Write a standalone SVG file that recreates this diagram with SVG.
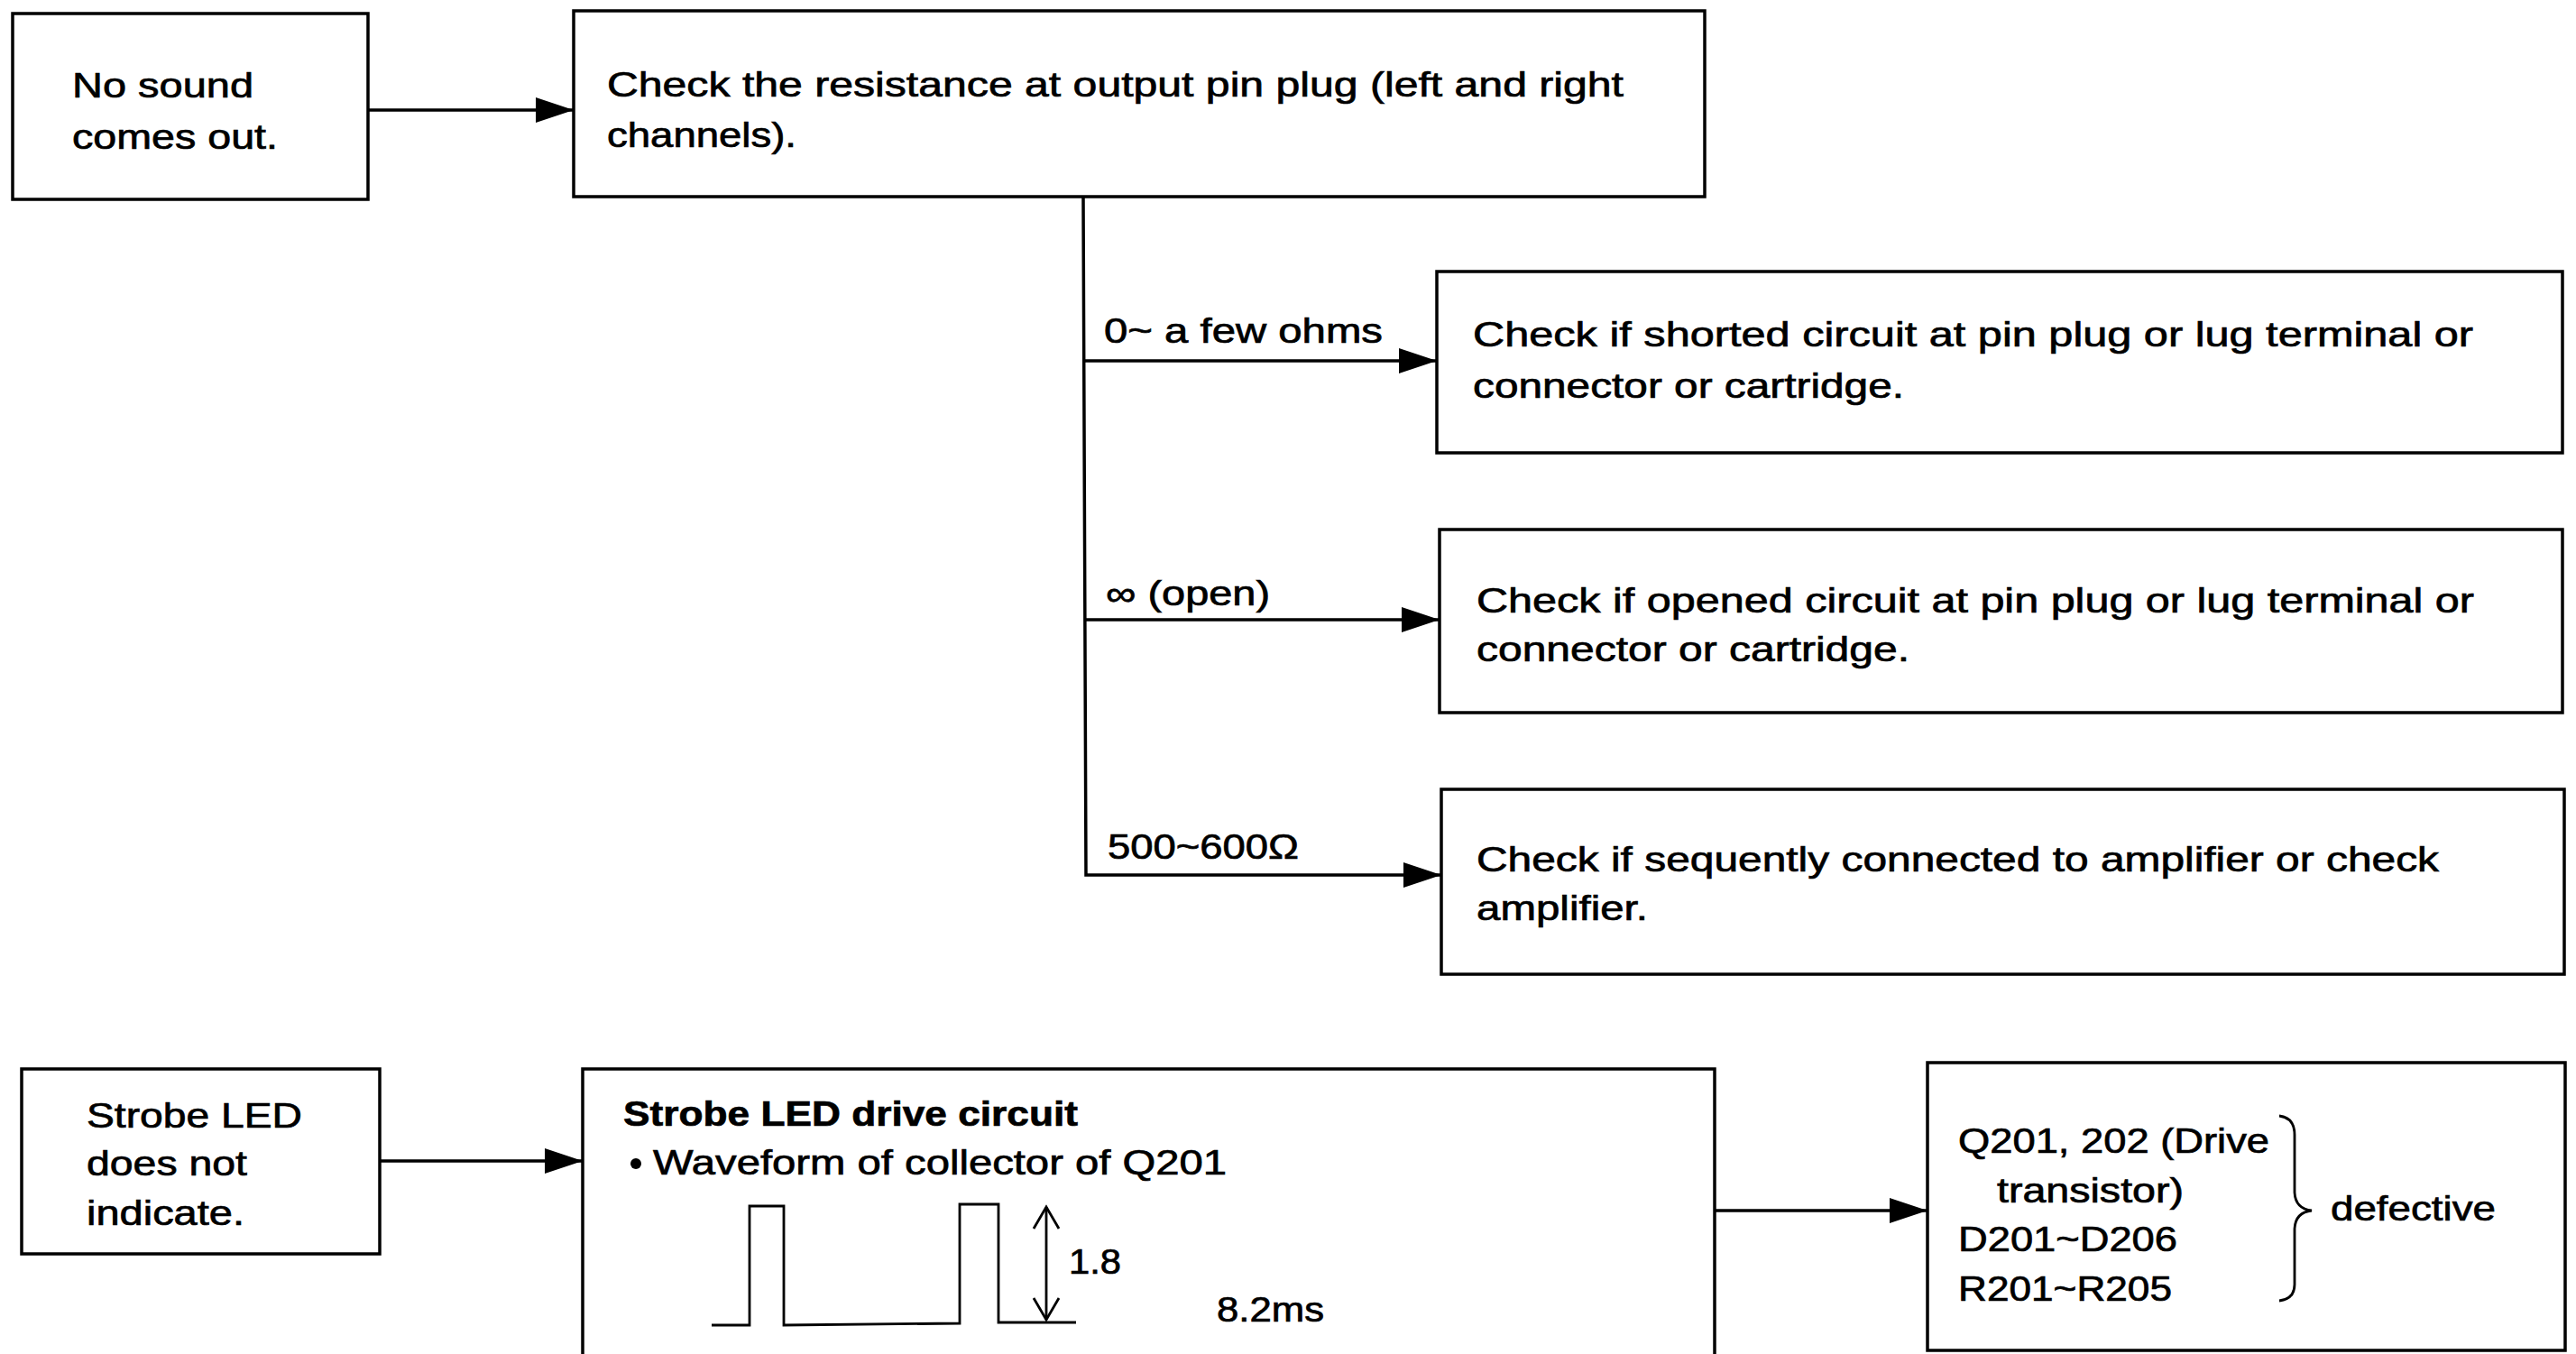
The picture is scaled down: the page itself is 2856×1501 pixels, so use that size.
<svg xmlns="http://www.w3.org/2000/svg" width="2856" height="1501" viewBox="0 0 2856 1501">
<style>
.box{fill:#fff;stroke:#000;stroke-width:3.5}
.t{font-family:"Liberation Sans",Arial,Helvetica,sans-serif;font-size:38px;fill:#000;stroke:#000;stroke-width:0.7}
.b{font-weight:bold}
.con{fill:none;stroke:#000;stroke-width:3.5}
.thin{fill:none;stroke:#000;stroke-width:2.8}
</style>
<defs>
<marker id="ah" markerUnits="userSpaceOnUse" markerWidth="44" markerHeight="30" refX="42" refY="14" orient="auto" overflow="visible"><path d="M0,0 L42,14 L0,28 Z" fill="#000"/></marker>
<marker id="oa" markerUnits="userSpaceOnUse" markerWidth="30" markerHeight="30" refX="24" refY="14" orient="auto-start-reverse" overflow="visible"><path d="M0,0 L24,14 L0,28" fill="none" stroke="#000" stroke-width="2.8"/></marker>
</defs>
<rect width="2856" height="1501" fill="#fff"/>

<g id="connectors">
<path class="con" d="M408,122 H636" marker-end="url(#ah)"/>
<path class="con" d="M1201,218 L1204,970 H1598" marker-end="url(#ah)"/>
<path class="con" d="M1201,400 H1593" marker-end="url(#ah)"/>
<path class="con" d="M1202,687 H1596" marker-end="url(#ah)"/>
<path class="con" d="M421,1287 H646" marker-end="url(#ah)"/>
<path class="con" d="M1901,1342 H2137" marker-end="url(#ah)"/>
</g>

<g id="no-sound">
<rect class="box" x="14" y="15" width="394" height="206"/>
<text class="t" x="80" y="108" textLength="201" lengthAdjust="spacingAndGlyphs">No sound</text>
<text class="t" x="80" y="165" textLength="228" lengthAdjust="spacingAndGlyphs">comes out.</text>
</g>

<g id="check-resistance">
<rect class="box" x="636" y="12" width="1254" height="206"/>
<text class="t" x="673" y="107" textLength="1127" lengthAdjust="spacingAndGlyphs">Check the resistance at output pin plug (left and right</text>
<text class="t" x="673" y="163" textLength="210" lengthAdjust="spacingAndGlyphs">channels).</text>
</g>

<g id="labels">
<text class="t" x="1224" y="380" textLength="309" lengthAdjust="spacingAndGlyphs">0~ a few ohms</text>
<text class="t" x="1226" y="671" textLength="182" lengthAdjust="spacingAndGlyphs">∞ (open)</text>
<text class="t" x="1228" y="952" textLength="212" lengthAdjust="spacingAndGlyphs">500~600Ω</text>
</g>

<g id="check-shorted">
<rect class="box" x="1593" y="301" width="1248" height="201"/>
<text class="t" x="1633" y="384" textLength="1109" lengthAdjust="spacingAndGlyphs">Check if shorted circuit at pin plug or lug terminal or</text>
<text class="t" x="1633" y="441" textLength="478" lengthAdjust="spacingAndGlyphs">connector or cartridge.</text>
</g>

<g id="check-opened">
<rect class="box" x="1596" y="587" width="1245" height="203"/>
<text class="t" x="1637" y="679" textLength="1106" lengthAdjust="spacingAndGlyphs">Check if opened circuit at pin plug or lug terminal or</text>
<text class="t" x="1637" y="733" textLength="480" lengthAdjust="spacingAndGlyphs">connector or cartridge.</text>
</g>

<g id="check-amplifier">
<rect class="box" x="1598" y="875" width="1245" height="205"/>
<text class="t" x="1637" y="966" textLength="1067" lengthAdjust="spacingAndGlyphs">Check if sequently connected to amplifier or check</text>
<text class="t" x="1637" y="1020" textLength="190" lengthAdjust="spacingAndGlyphs">amplifier.</text>
</g>

<g id="strobe-led">
<rect class="box" x="24" y="1185" width="397" height="205"/>
<text class="t" x="96" y="1250" textLength="239" lengthAdjust="spacingAndGlyphs">Strobe LED</text>
<text class="t" x="96" y="1303" textLength="178" lengthAdjust="spacingAndGlyphs">does not</text>
<text class="t" x="96" y="1358" textLength="175" lengthAdjust="spacingAndGlyphs">indicate.</text>
</g>

<g id="drive-circuit">
<rect class="box" x="646" y="1185" width="1255" height="340"/>
<text class="t b" x="691" y="1248" textLength="504" lengthAdjust="spacingAndGlyphs">Strobe LED drive circuit</text>
<circle cx="705" cy="1290" r="6" fill="#000"/>
<text class="t" x="724" y="1302" textLength="636" lengthAdjust="spacingAndGlyphs">Waveform of collector of Q201</text>
<polyline class="thin" points="789,1469 831,1469 831,1337 869,1337 869,1469 1064,1467 1064,1335 1107,1335 1107,1466 1193,1466"/>
<path class="thin" d="M1160,1338 V1463" marker-start="url(#oa)" marker-end="url(#oa)"/>
<text class="t" x="1185" y="1412" textLength="58" lengthAdjust="spacingAndGlyphs">1.8</text>
<text class="t" x="1349" y="1465" textLength="119" lengthAdjust="spacingAndGlyphs">8.2ms</text>
</g>

<g id="defective">
<rect class="box" x="2137" y="1178" width="707" height="319"/>
<text class="t" x="2171" y="1278" textLength="345" lengthAdjust="spacingAndGlyphs">Q201, 202 (Drive</text>
<text class="t" x="2214" y="1333" textLength="207" lengthAdjust="spacingAndGlyphs">transistor)</text>
<text class="t" x="2171" y="1387" textLength="243" lengthAdjust="spacingAndGlyphs">D201~D206</text>
<text class="t" x="2171" y="1442" textLength="237" lengthAdjust="spacingAndGlyphs">R201~R205</text>
<path class="thin" d="M2527,1237 Q2544,1239 2544,1258 L2544,1322 Q2545,1340 2563,1342 Q2545,1344 2544,1362 L2544,1424 Q2544,1440 2527,1442"/>
<text class="t" x="2584" y="1353" textLength="183" lengthAdjust="spacingAndGlyphs">defective</text>
</g>
</svg>
